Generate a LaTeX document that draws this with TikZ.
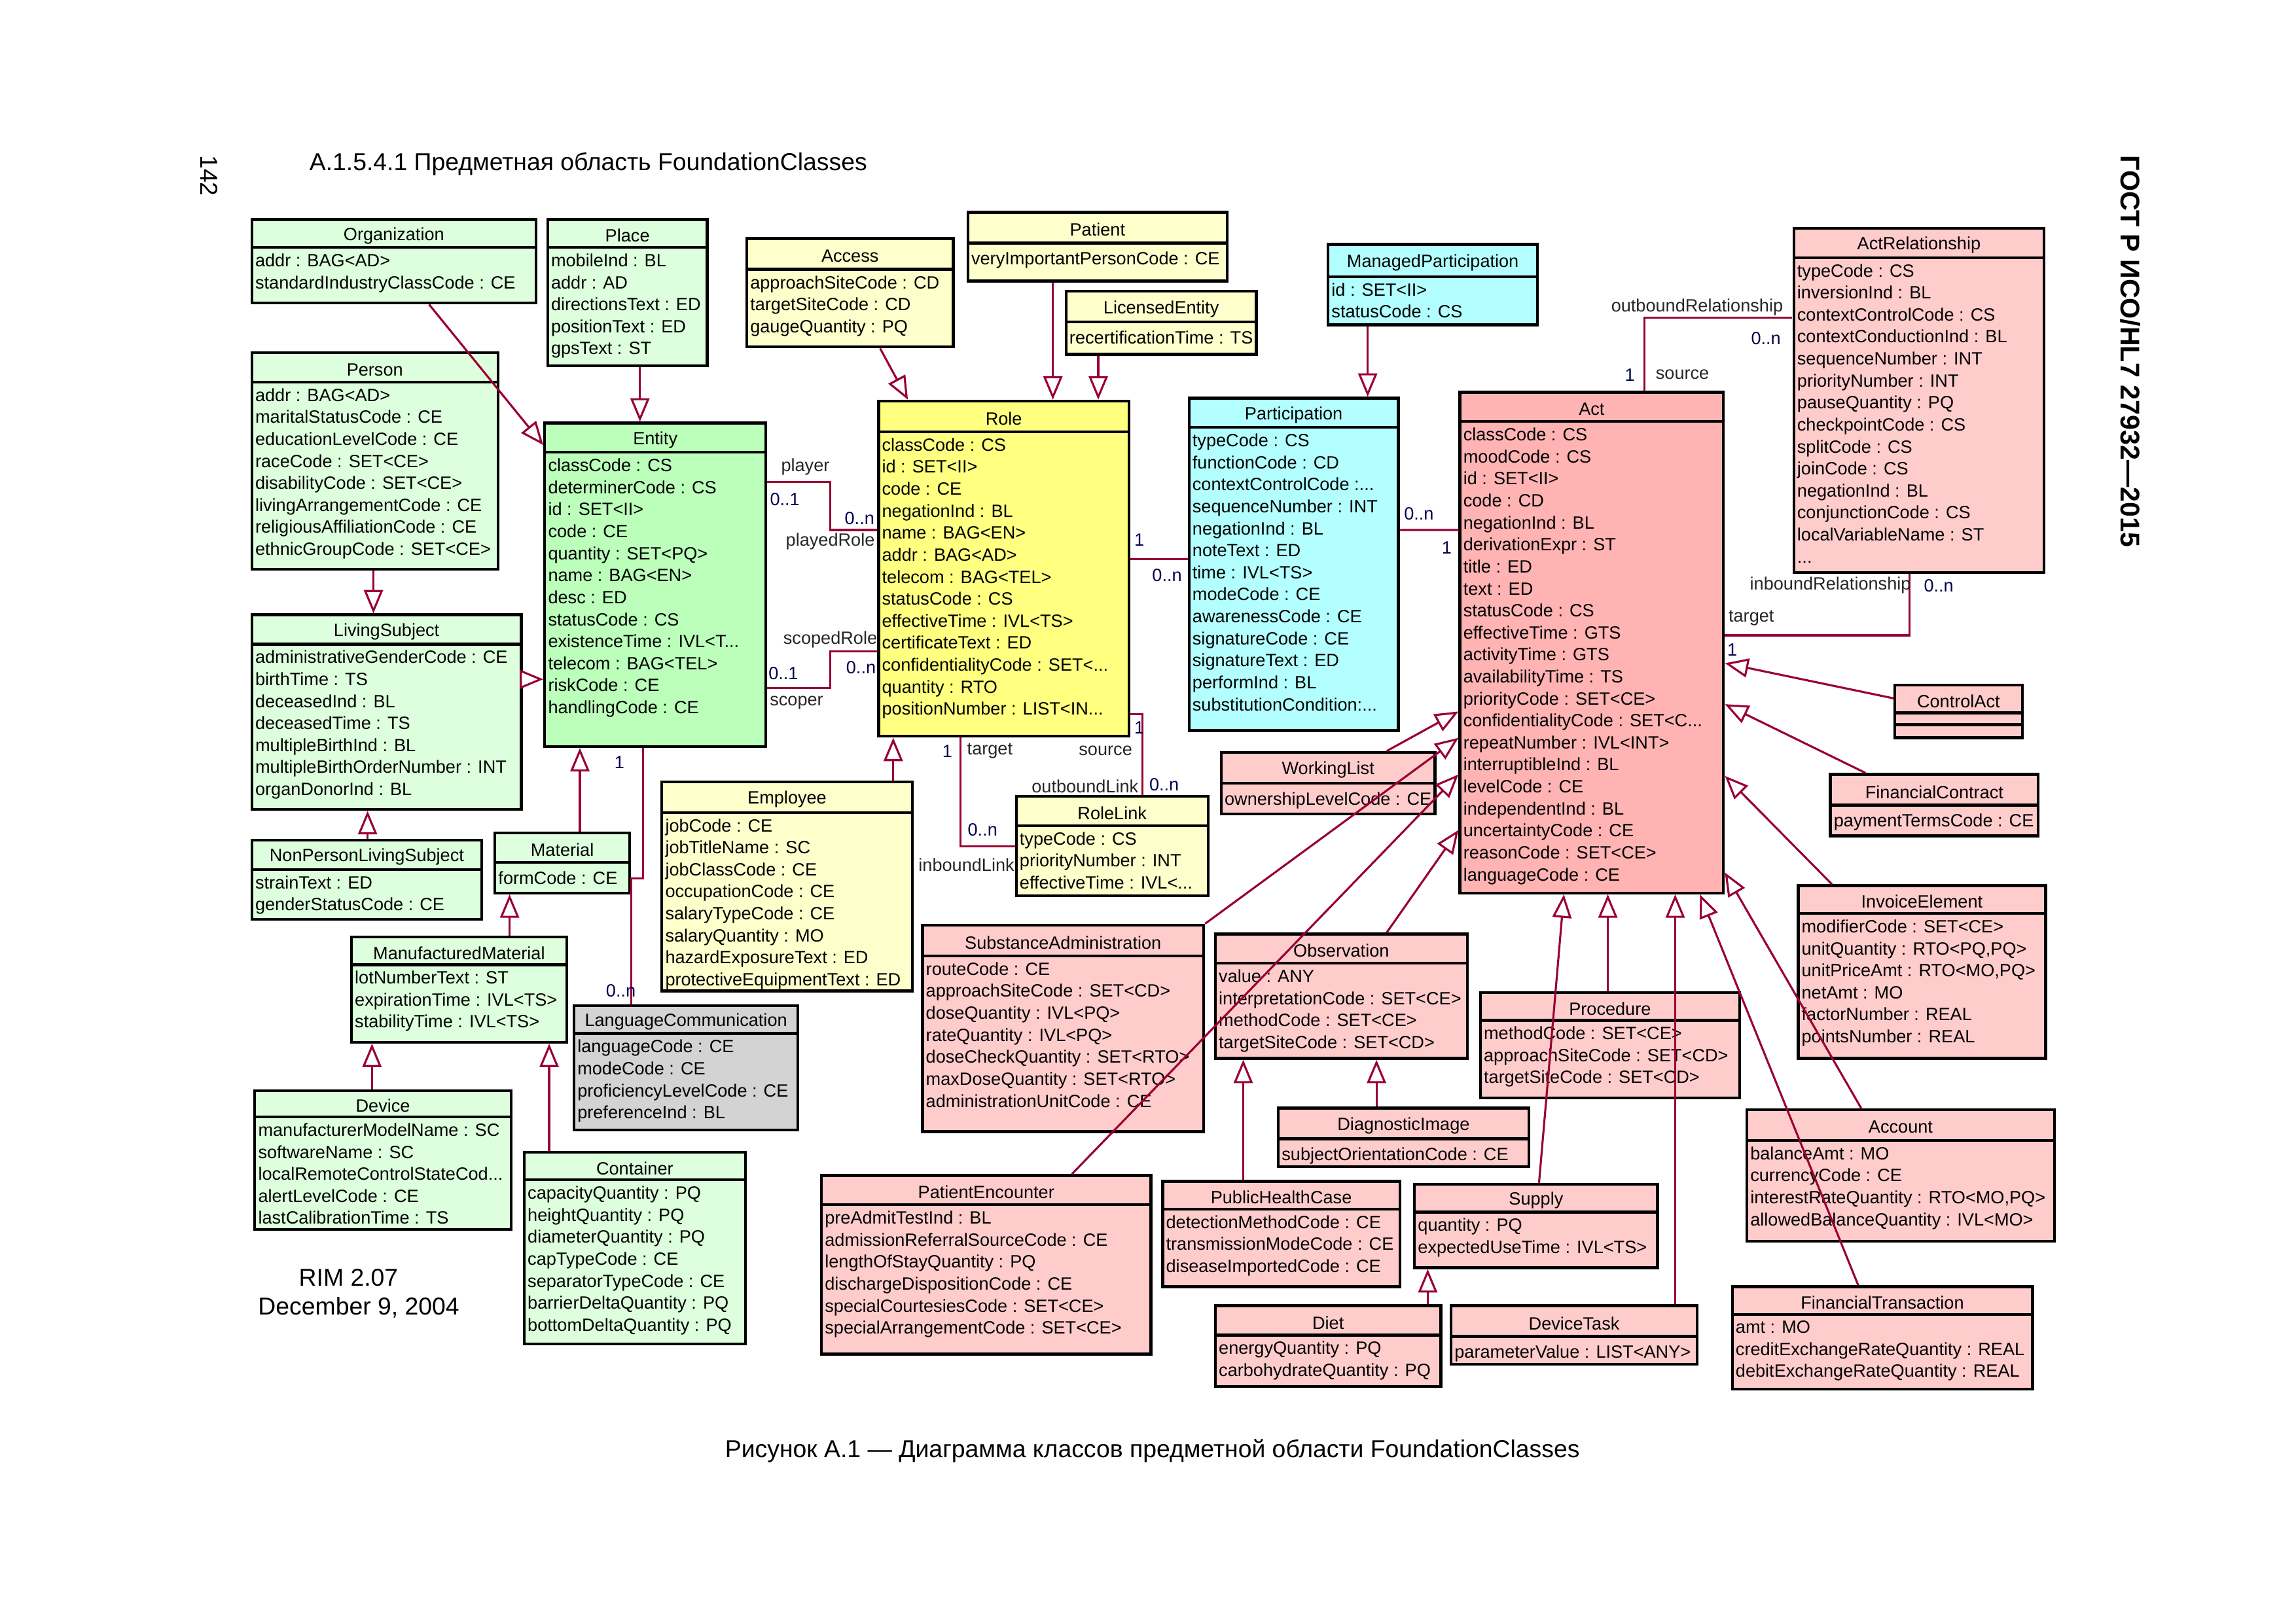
\documentclass[tikz,border=0pt]{standalone}
\usepackage{fontspec}
\setmainfont{Liberation Sans}
\usepackage{tikz}
\usepackage{xcolor}
\usetikzlibrary{arrows.meta, calc, fit, positioning}

\definecolor{entgreen}{HTML}{DDFFDD}
\definecolor{entitygreen}{HTML}{BBFFBB}
\definecolor{roleyellow}{HTML}{FFFFCC}
\definecolor{roleyel}{HTML}{FFFF80}
\definecolor{partcyan}{HTML}{B3FFFF}
\definecolor{actpink}{HTML}{FFCCCC}
\definecolor{actsalmon}{HTML}{FFB3B3}
\definecolor{commgrey}{HTML}{D3D3D3}
\definecolor{linkred}{HTML}{990033}
\definecolor{multblue}{HTML}{000050}

\newcommand{\classfont}{\fontsize{6.9}{8.55}\selectfont}

\tikzset{
    classbox/.style={draw=black, line width=1.1pt, inner sep=0pt},
    classname/.style={font=\classfont, inner sep=0pt, yshift=-0.3mm},
    classattr/.style={anchor=north west, align=left, font=\classfont, inner xsep=0.4mm, inner ysep=0.8mm, execute at begin node=\strut},
    gen/.style={draw=linkred, line width=0.8pt, -{Triangle[fill=white, length=3.2mm, width=2.6mm]}},
    assoc/.style={draw=linkred, line width=0.8pt},
    rolename/.style={font=\classfont, text=black!85, inner sep=0pt},
    mult/.style={font=\classfont, text=multblue, inner sep=0pt},
    pagetext/.style={font=\fontsize{9.5}{11}\selectfont, inner sep=0pt}
}

% name, fill, left, top, right, bottom, header line, title, attributes
\newcommand{\umlclass}[9]{%
    \node[classbox, fill=#2, fit={(#3, #4) (#5, #6)}] (#1) {};
    \draw[classbox] (#3, #7) -- (#5, #7);
    \node[classname] (#1-name) at ($(#3, #4)!0.5!(#5, #7)$) {#8};
    \node[classattr] (#1-attr) at (#3, #7) {#9};
}

\begin{document}
\begin{tikzpicture}[x=0.2mm, y=-0.2mm]
                    \useasboundingbox (0, 0) rectangle (1568, 1109);

                    \node[pagetext, rotate=-90] (pagenum) at (143, 120) {142};
                    \node[pagetext, anchor=west] (sectitle) at (211, 112) {А.1.5.4.1 Предметная область FoundationClasses};
                    \node[pagetext, font=\fontsize{10.5}{12}\selectfont\bfseries, rotate=-90] (stdname) at (1455, 240) {ГОСТ Р ИСО/HL7 27932—2015};
                    \node[pagetext] (caption) at (787, 991) {Рисунок А.1 — Диаграмма классов предметной области FoundationClasses};
                    \node[pagetext] (rimver) at (238, 873) {RIM 2.07};
                    \node[pagetext] (rimdate) at (245, 893) {December 9, 2004};

                    \umlclass{Organization}{entgreen}{172}{150}{366}{207}{169}{Organization}{addr : BAG<AD>\\standardIndustryClassCode : CE}
                    \umlclass{Place}{entgreen}{374}{150}{483}{250}{169}{Place}{mobileInd : BL\\addr : AD\\directionsText : ED\\positionText : ED\\gpsText : ST}
                    \umlclass{Person}{entgreen}{172}{241}{340}{389}{261}{Person}{addr : BAG<AD>\\maritalStatusCode : CE\\educationLevelCode : CE\\raceCode : SET<CE>\\disabilityCode : SET<CE>\\livingArrangementCode : CE\\religiousAffiliationCode : CE\\ethnicGroupCode : SET<CE>}
                    \umlclass{Entity}{entitygreen}{372}{289}{523}{510}{309}{Entity}{classCode : CS\\determinerCode : CS\\id : SET<II>\\code : CE\\quantity : SET<PQ>\\name : BAG<EN>\\desc : ED\\statusCode : CS\\existenceTime : IVL<T...\\telecom : BAG<TEL>\\riskCode : CE\\handlingCode : CE}
                    \umlclass{LivingSubject}{entgreen}{172}{420}{356}{553}{440}{LivingSubject}{administrativeGenderCode : CE\\birthTime : TS\\deceasedInd : BL\\deceasedTime : TS\\multipleBirthInd : BL\\multipleBirthOrderNumber : INT\\organDonorInd : BL}
                    \umlclass{NonPersonLivingSubject}{entgreen}{172}{574}{329}{628}{594}{NonPersonLivingSubject}{strainText : ED\\genderStatusCode : CE}
                    \umlclass{Material}{entgreen}{338}{569}{430}{610}{589}{Material}{formCode : CE}
                    \umlclass{ManufacturedMaterial}{entgreen}{240}{640}{387}{712}{659}{ManufacturedMaterial}{lotNumberText : ST\\expirationTime : IVL<TS>\\stabilityTime : IVL<TS>}
                    \umlclass{Device}{entgreen}{174}{745}{349}{840}{763}{Device}{manufacturerModelName : SC\\softwareName : SC\\localRemoteControlStateCod...\\alertLevelCode : CE\\lastCalibrationTime : TS}
                    \umlclass{Container}{entgreen}{358}{787}{509}{918}{806}{Container}{capacityQuantity : PQ\\heightQuantity : PQ\\diameterQuantity : PQ\\capTypeCode : CE\\separatorTypeCode : CE\\barrierDeltaQuantity : PQ\\bottomDeltaQuantity : PQ}
                    \umlclass{LanguageCommunication}{commgrey}{392}{687}{545}{772}{706}{LanguageCommunication}{languageCode : CE\\modeCode : CE\\proficiencyLevelCode : CE\\preferenceInd : BL}

                    \umlclass{Access}{roleyellow}{510}{163}{651}{237}{184}{Access}{approachSiteCode : CD\\targetSiteCode : CD\\gaugeQuantity : PQ}
                    \umlclass{Patient}{roleyellow}{661}{145}{838}{192}{166}{Patient}{veryImportantPersonCode : CE}
                    \umlclass{LicensedEntity}{roleyellow}{728}{199}{858}{242}{220}{LicensedEntity}{recertificationTime : TS}
                    \umlclass{Role}{roleyel}{600}{274}{771}{503}{295}{Role}{classCode : CS\\id : SET<II>\\code : CE\\negationInd : BL\\name : BAG<EN>\\addr : BAG<AD>\\telecom : BAG<TEL>\\statusCode : CS\\effectiveTime : IVL<TS>\\certificateText : ED\\confidentialityCode : SET<...\\quantity : RTO\\positionNumber : LIST<IN...}
                    \umlclass{Employee}{roleyellow}{452}{534}{623}{677}{555}{Employee}{jobCode : CE\\jobTitleName : SC\\jobClassCode : CE\\occupationCode : CE\\salaryTypeCode : CE\\salaryQuantity : MO\\hazardExposureText : ED\\protectiveEquipmentText : ED}
                    \umlclass{RoleLink}{roleyellow}{694}{544}{825}{612}{564}{RoleLink}{typeCode : CS\\priorityNumber : INT\\effectiveTime : IVL<...}

                    \umlclass{ManagedParticipation}{partcyan}{907}{167}{1050}{222}{189}{ManagedParticipation}{id : SET<II>\\statusCode : CS}
                    \umlclass{Participation}{partcyan}{812}{272}{955}{499}{292}{Participation}{typeCode : CS\\functionCode : CD\\contextControlCode :...\\sequenceNumber : INT\\negationInd : BL\\noteText : ED\\time : IVL<TS>\\modeCode : CE\\awarenessCode : CE\\signatureCode : CE\\signatureText : ED\\performInd : BL\\substitutionCondition:...}

                    \umlclass{Act}{actsalmon}{997}{268}{1177}{610}{288}{Act}{classCode : CS\\moodCode : CS\\id : SET<II>\\code : CD\\negationInd : BL\\derivationExpr : ST\\title : ED\\text : ED\\statusCode : CS\\effectiveTime : GTS\\activityTime : GTS\\availabilityTime : TS\\priorityCode : SET<CE>\\confidentialityCode : SET<C...\\repeatNumber : IVL<INT>\\interruptibleInd : BL\\levelCode : CE\\independentInd : BL\\uncertaintyCode : CE\\reasonCode : SET<CE>\\languageCode : CE}
                    \umlclass{ActRelationship}{actpink}{1225}{156}{1396}{391}{176}{ActRelationship}{typeCode : CS\\inversionInd : BL\\contextControlCode : CS\\contextConductionInd : BL\\sequenceNumber : INT\\priorityNumber : INT\\pauseQuantity : PQ\\checkpointCode : CS\\splitCode : CS\\joinCode : CS\\negationInd : BL\\conjunctionCode : CS\\localVariableName : ST\\...}
                    \umlclass{WorkingList}{actpink}{834}{514}{980}{556}{535}{WorkingList}{ownershipLevelCode : CE}
                    \umlclass{ControlAct}{actpink}{1294}{468}{1381}{504}{487}{ControlAct}{}
                    \draw[classbox] ($(ControlAct.north west)+(0, 28)$) -- ($(ControlAct.north east)+(0, 28)$);
                    \umlclass{FinancialContract}{actpink}{1250}{529}{1392}{571}{550}{FinancialContract}{paymentTermsCode : CE}
                    \umlclass{InvoiceElement}{actpink}{1228}{605}{1397}{723}{624}{InvoiceElement}{modifierCode : SET<CE>\\unitQuantity : RTO<PQ,PQ>\\unitPriceAmt : RTO<MO,PQ>\\netAmt : MO\\factorNumber : REAL\\pointsNumber : REAL}
                    \umlclass{SubstanceAdministration}{actpink}{630}{632}{822}{773}{653}{SubstanceAdministration}{routeCode : CE\\approachSiteCode : SET<CD>\\doseQuantity : IVL<PQ>\\rateQuantity : IVL<PQ>\\doseCheckQuantity : SET<RTO>\\maxDoseQuantity : SET<RTO>\\administrationUnitCode : CE}
                    \umlclass{Observation}{actpink}{830}{638}{1002}{723}{658}{Observation}{value : ANY\\interpretationCode : SET<CE>\\methodCode : SET<CE>\\targetSiteCode : SET<CD>}
                    \umlclass{Procedure}{actpink}{1011}{678}{1188}{750}{697}{Procedure}{methodCode : SET<CE>\\approachSiteCode : SET<CD>\\targetSiteCode : SET<CD>}
                    \umlclass{DiagnosticImage}{actpink}{873}{757}{1044}{797}{778}{DiagnosticImage}{subjectOrientationCode : CE}
                    \umlclass{Account}{actpink}{1193}{758}{1403}{848}{779}{Account}{balanceAmt : MO\\currencyCode : CE\\interestRateQuantity : RTO<MO,PQ>\\allowedBalanceQuantity : IVL<MO>}
                    \umlclass{PatientEncounter}{actpink}{561}{803}{786}{925}{823}{PatientEncounter}{preAdmitTestInd : BL\\admissionReferralSourceCode : CE\\lengthOfStayQuantity : PQ\\dischargeDispositionCode : CE\\specialCourtesiesCode : SET<CE>\\specialArrangementCode : SET<CE>}
                    \umlclass{PublicHealthCase}{actpink}{794}{807}{956}{879}{826}{PublicHealthCase}{detectionMethodCode : CE\\transmissionModeCode : CE\\diseaseImportedCode : CE}
                    \umlclass{Supply}{actpink}{966}{809}{1132}{866}{828}{Supply}{quantity : PQ\\expectedUseTime : IVL<TS>}
                    \umlclass{Diet}{actpink}{830}{892}{984}{947}{912}{Diet}{energyQuantity : PQ\\carbohydrateQuantity : PQ}
                    \umlclass{DeviceTask}{actpink}{991}{892}{1159}{932}{913}{DeviceTask}{parameterValue : LIST<ANY>}
                    \umlclass{FinancialTransaction}{actpink}{1183}{879}{1388}{949}{898}{FinancialTransaction}{amt : MO\\creditExchangeRateQuantity : REAL\\debitExchangeRateQuantity : REAL}

                    \draw[gen] ($(Organization.south west)+(122, 0)$) -- ($(Entity.north west)+(0, 16)$);
                    \draw[gen] ($(Place.south west)+(64, 0)$) -- ($(Entity.north west)+(66, 0)$);
                    \draw[gen] ($(Person.south west)+(84, 0)$) -- ($(LivingSubject.north west)+(84, 0)$);
                    \draw[gen] ($(LivingSubject.north east)+(0, 45)$) -- ($(Entity.north west)+(0, 176)$);
                    \draw[gen] ($(NonPersonLivingSubject.north west)+(80, 0)$) -- ($(LivingSubject.south west)+(80, 0)$);
                    \draw[gen] ($(Material.north west)+(59, 0)$) -- ($(Entity.south west)+(25, 0)$);
                    \draw[gen] ($(ManufacturedMaterial.north west)+(109, 0)$) -- ($(Material.south west)+(11, 0)$);
                    \draw[gen] ($(Device.north west)+(81, 0)$) -- ($(ManufacturedMaterial.south west)+(15, 0)$);
                    \draw[gen] ($(Container.north west)+(18, 0)$) -- ($(ManufacturedMaterial.south west)+(136, 0)$);
                    \draw[assoc] ($(Entity.south west)+(68, 0)$) -- ++(0, 89) -| ($(LanguageCommunication.north west)+(40, 0)$);

                    \draw[gen] ($(Access.south west)+(92, 0)$) -- ($(Role.north west)+(21, 0)$);
                    \draw[gen] ($(Patient.south west)+(59, 0)$) -- ($(Role.north west)+(120, 0)$);
                    \draw[gen] ($(LicensedEntity.south west)+(23, 0)$) -- ($(Role.north west)+(151, 0)$);
                    \draw[gen] ($(Employee.north west)+(159, 0)$) -- ($(Role.south west)+(11, 0)$);
                    \draw[assoc] ($(Entity.north east)+(0, 41)$) -- ++(43, 0) |- ($(Role.north west)+(0, 89)$);
                    \draw[assoc] ($(Entity.north east)+(0, 182)$) -- ++(43, 0) |- ($(Role.north west)+(0, 172)$);
                    \draw[assoc] ($(Role.north east)+(0, 109)$) -- ($(Participation.north west)+(0, 111)$);
                    \draw[assoc] ($(Role.south west)+(57, 0)$) |- ($(RoleLink.north west)+(0, 35)$);
                    \draw[assoc] ($(Role.north east)+(0, 215)$) -| ($(RoleLink.north west)+(87, 0)$);

                    \draw[gen] ($(ManagedParticipation.south west)+(28, 0)$) -- ($(Participation.north west)+(123, 0)$);
                    \draw[assoc] ($(Participation.north east)+(0, 91)$) -- ($(Act.north west)+(0, 95)$);
                    \draw[assoc] ($(Act.north west)+(127, 0)$) |- ($(ActRelationship.north west)+(0, 62)$);
                    \draw[assoc] ($(ActRelationship.south west)+(80, 0)$) |- ($(Act.north east)+(0, 167)$);

                    \draw[gen] ($(WorkingList.north west)+(114, 0)$) -- ($(Act.north west)+(0, 219)$);
                    \draw[gen] (SubstanceAdministration.north east) -- ($(Act.north west)+(0, 237)$);
                    \draw[gen] ($(PatientEncounter.north west)+(172, 0)$) -- ($(Act.north west)+(0, 262)$);
                    \draw[gen] ($(Observation.north west)+(118, 0)$) -- ($(Act.north west)+(0, 300)$);
                    \draw[gen] ($(Supply.north west)+(86, 0)$) -- ($(Act.south west)+(72, 0)$);
                    \draw[gen] ($(Procedure.north west)+(88, 0)$) -- ($(Act.south west)+(102, 0)$);
                    \draw[gen] ($(DeviceTask.north west)+(154, 0)$) -- ($(Act.south west)+(148, 0)$);
                    \draw[gen] ($(FinancialTransaction.north west)+(87, 0)$) -- ($(Act.south east)+(-17, 0)$);
                    \draw[gen] ($(Account.north west)+(79, 0)$) -- ($(Act.north east)+(0, 329)$);
                    \draw[gen] ($(InvoiceElement.north west)+(24, 0)$) -- ($(Act.north east)+(0, 263)$);
                    \draw[gen] ($(FinancialContract.north west)+(25, 0)$) -- ($(Act.north east)+(0, 214)$);
                    \draw[gen] ($(ControlAct.north west)+(0, 10)$) -- ($(Act.north east)+(0, 186)$);
                    \draw[gen] ($(PublicHealthCase.north west)+(56, 0)$) -- ($(Observation.south west)+(20, 0)$);
                    \draw[gen] ($(DiagnosticImage.north west)+(68, 0)$) -- ($(Observation.south west)+(111, 0)$);
                    \draw[gen] ($(Diet.north west)+(146, 0)$) -- ($(Supply.south west)+(10, 0)$);

                    \node[mult] (lc-one) at (423, 521) {1};
                    \node[mult] (lc-many) at (424, 677) {0..n};
                    \node[rolename] (pl-name) at (550, 319) {player};
                    \node[mult] (pl-one) at (536, 341) {0..1};
                    \node[mult] (pr-many) at (587, 354) {0..n};
                    \node[rolename] (pr-name) at (567, 370) {playedRole};
                    \node[rolename] (sr-name) at (567, 437) {scopedRole};
                    \node[mult] (sr-many) at (588, 456) {0..n};
                    \node[mult] (sc-one) at (535, 460) {0..1};
                    \node[rolename] (sc-name) at (544, 480) {scoper};
                    \node[mult] (rp-one) at (778, 369) {1};
                    \node[mult] (rp-many) at (797, 393) {0..n};
                    \node[mult] (tg-one) at (647, 513) {1};
                    \node[rolename] (tg-name) at (676, 513) {target};
                    \node[mult] (il-many) at (671, 567) {0..n};
                    \node[rolename] (il-name) at (660, 591) {inboundLink};
                    \node[mult] (so-one) at (778, 497) {1};
                    \node[rolename] (so-name) at (755, 513) {source};
                    \node[mult] (ol-many) at (795, 536) {0..n};
                    \node[rolename] (ol-name) at (741, 537) {outboundLink};
                    \node[mult] (pa-many) at (969, 351) {0..n};
                    \node[mult] (pa-one) at (988, 374) {1};
                    \node[rolename] (or-name) at (1159, 210) {outboundRelationship};
                    \node[mult] (or-many) at (1206, 231) {0..n};
                    \node[mult] (as-one) at (1113, 256) {1};
                    \node[rolename] (as-name) at (1149, 256) {source};
                    \node[rolename] (ir-name) at (1250, 400) {inboundRelationship};
                    \node[mult] (ir-many) at (1324, 400) {0..n};
                    \node[rolename] (at-name) at (1196, 422) {target};
                    \node[mult] (at-one) at (1183, 444) {1};
\end{tikzpicture}
\end{document}
